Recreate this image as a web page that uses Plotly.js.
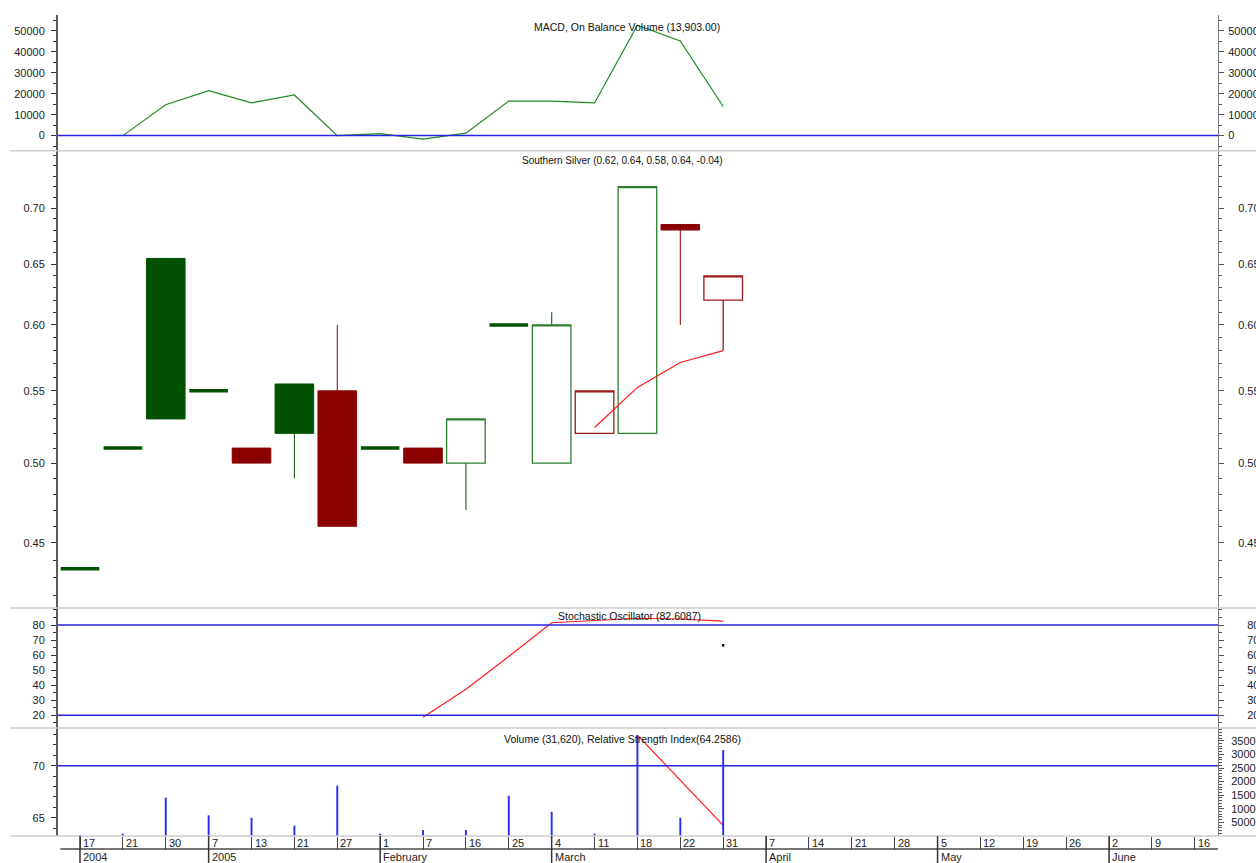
<!DOCTYPE html>
<html><head><meta charset="utf-8">
<script src="https://cdn.plot.ly/plotly-3.0.1.min.js"></script>
<style>html,body{margin:0;padding:0;background:#fff}#chart{width:1256px;height:863px}</style>
</head><body><div id="chart"></div>
<script>
// ---------- data ----------
const dateLabels = ['17','21','30','7','13','21','27','1','7','16','25','4','11','18','22','31','7','14','21','28','5','12','19','26','2','9','16'];
const periodLabels = ['2004','2005','February','March','April','May','June'];
const periodIdx = [0,3,7,11,16,20,24];

const open  = [0.435,0.51,0.655,0.55,0.51,0.555,0.55,0.51,0.51,0.50,0.60,0.50,0.52,0.52,0.685,0.62];
const high  = [0.435,0.51,0.655,0.55,0.51,0.555,0.60,0.51,0.51,0.53,0.60,0.61,0.55,0.72,0.685,0.64];
const low   = [0.435,0.51,0.53 ,0.55,0.50,0.49 ,0.46,0.51,0.50,0.47,0.60,0.50,0.52,0.52,0.60 ,0.58];
const close = [0.435,0.51,0.53 ,0.55,0.50,0.52 ,0.46,0.51,0.50,0.53,0.60,0.60,0.55,0.72,0.68 ,0.64];

const maIdx  = [12,13,14,15];
const maVals = [0.524,0.5525,0.571,0.58];

const volume = [370,850,14100,7600,6700,3800,18500,850,2200,2200,14800,8900,850,37100,6700,31620];
const obvIdx = [1,2,3,4,5,6,7,8,9,10,11,12,13,14,15];
const obv    = [0,14760,21500,15600,19400,0,960,-1700,1150,16500,16500,15600,52700,45200,13903];

const stochIdx = [8,9,10,11,12,13,14,15];
const stochK   = [18.7,37.3,59,81.5,83,84.5,84,82.6087];
const stochDIdx = [15];
const stochD    = [66.5];

const rsiIdx = [13,14,15];
const rsi    = [72.95,68.6,64.2586];

const macdLevel = 0;
const stochLevels = [20,80];
const rsiLevel = 70;

const obvTicks = [0,10000,20000,30000,40000,50000];
const priceTicks = [0.45,0.50,0.55,0.60,0.65,0.70];
const stochTicks = [20,30,40,50,60,70,80];
const rsiTicks = [65,70];
const volTicks = [5000,10000,15000,20000,25000,30000,35000];

// ---------- styles ----------
const FONT = 'Liberation Sans, Arial, sans-serif';
const axisFont = {family: FONT, size: 11, color: '#222'};
const GREEN_FILL = '#005200', RED_FILL = '#8b0000';
const GREEN_LINE = '#2f7f2f', RED_LINE = '#a01818';
const BLUE = '#2424e0';

function range(a, b, s){ const r=[]; for(let v=a; v<=b+1e-9; v+=s) r.push(+v.toFixed(4)); return r; }

// ---------- candles grouped by style ----------
const groups = {};
for (let i = 0; i < close.length; i++) {
  const up = i === 0 || close[i] >= close[i-1];
  const doji = open[i] === close[i];
  const filled = close[i] <= open[i];
  const key = (up ? 'g' : 'r') + (doji ? 'd' : (filled ? 'f' : 'h'));
  (groups[key] = groups[key] || []).push(i);
}
const styleFor = {
  gd: {fill: GREEN_FILL, line: GREEN_FILL, w: 3.5},
  gf: {fill: GREEN_FILL, line: GREEN_FILL, w: 1},
  gh: {fill: '#ffffff', line: GREEN_LINE, w: 1.3},
  rd: {fill: RED_FILL, line: RED_FILL, w: 3.5},
  rf: {fill: RED_FILL, line: RED_FILL, w: 1},
  rh: {fill: '#ffffff', line: RED_LINE, w: 1.3}
};
const traces = [];
Object.keys(groups).forEach(k => {
  const idx = groups[k], s = styleFor[k];
  const dir = {line: {color: s.line, width: s.w}, fillcolor: s.fill};
  traces.push({
    type: 'candlestick', xaxis: 'x', yaxis: 'y3',
    x: idx, open: idx.map(i => open[i]), high: idx.map(i => high[i]),
    low: idx.map(i => low[i]), close: idx.map(i => close[i]),
    increasing: dir, decreasing: dir, whiskerwidth: 0,
    hoverinfo: 'skip', showlegend: false
  });
});

traces.push({type:'scatter', mode:'lines', x: maIdx, y: maVals, xaxis:'x', yaxis:'y3',
  line:{color:'#ff1a1a', width:1.2}, hoverinfo:'skip', showlegend:false});

traces.push({type:'scatter', mode:'lines', x: obvIdx, y: obv, xaxis:'x', yaxis:'y',
  line:{color:'#1f8a1f', width:1.2}, hoverinfo:'skip', showlegend:false});

traces.push({type:'scatter', mode:'lines', x: stochIdx, y: stochK, xaxis:'x', yaxis:'y5',
  line:{color:'#ff1a1a', width:1.2}, hoverinfo:'skip', showlegend:false});
traces.push({type:'scatter', mode:'markers', x: stochDIdx, y: stochD, xaxis:'x', yaxis:'y5',
  marker:{color:'#000', size:2.5, symbol:'square'}, hoverinfo:'skip', showlegend:false});

traces.push({type:'bar', x: volume.map((_, i) => i), y: volume, xaxis:'x', yaxis:'y8',
  width: 0.045, marker:{color:'#2b2bff', line:{width:0}}, hoverinfo:'skip', showlegend:false});

traces.push({type:'scatter', mode:'lines', x: rsiIdx, y: rsi, xaxis:'x', yaxis:'y7',
  line:{color:'#ff1a1a', width:1.2}, hoverinfo:'skip', showlegend:false});

// invisible copies so that the right-hand mirror axes get drawn
[['y2', obvIdx, obv], ['y4', maIdx, maVals], ['y6', stochIdx, stochK]].forEach(h => {
  traces.push({type:'scatter', mode:'lines', x: h[1], y: h[2], xaxis:'x', yaxis: h[0],
    line:{color:'rgba(0,0,0,0)', width:0}, opacity:0, hoverinfo:'skip', showlegend:false});
});

// ---------- axes ----------
const XR = [-0.513, 26.54];
const D_OBV = [0.8347, 1], D_PRICE = [0.2777, 0.8347], D_STO = [0.1315, 0.2777], D_RSI = [0, 0.1315];

function leftAxis(domain, rng, ticks, minor, extra){
  return Object.assign({
    domain: domain, range: rng, anchor: 'x', side: 'left',
    tickmode: 'array', tickvals: ticks, tickfont: axisFont,
    showline: true, linecolor: '#5a5a5a', linewidth: 2,
    ticks: 'outside', ticklen: 5, tickcolor: '#333', tickwidth: 1,
    minor: {tickmode: 'array', tickvals: minor, ticks: 'outside', ticklen: 3, tickcolor: '#333'},
    showgrid: false, zeroline: false, fixedrange: true, ticklabelstandoff: 4
  }, extra || {});
}
function rightAxis(base, rng, ticks, minor, standoff, extra){
  return Object.assign({
    overlaying: base, side: 'right', anchor: 'x', range: rng,
    tickmode: 'array', tickvals: ticks, tickfont: axisFont,
    showline: true, linecolor: '#7a7a7a', linewidth: 1,
    ticks: 'outside', ticklen: 5, tickcolor: '#555', tickwidth: 1,
    minor: {tickmode: 'array', tickvals: minor, ticks: 'outside', ticklen: 3, tickcolor: '#555'},
    showgrid: false, zeroline: false, fixedrange: true, ticklabelstandoff: standoff
  }, extra || {});
}

const obvRange = [-7200, 57550];
const priceRange = [Math.log10(0.413), Math.log10(0.755)];
const stoRange = [11.5, 91.3];
const rsiRange = [63.24, 73.63];
const volRange = [0, 39710];

const obvMinor = range(-5000, 55000, 10000);
const priceMinor = range(0.42, 0.75, 0.01);
const stoMinor = range(15, 90, 5);
const rsiMinor = range(64, 73, 1);
const volMinor = range(1000, 39000, 1000);

// ---------- shapes ----------
const pY = y => (836 - y) / 821;   // pixel row -> paper y
const shapes = [];
shapes.push({type:'line', xref:'paper', x0:0, x1:1, yref:'y', y0:macdLevel, y1:macdLevel, line:{color:BLUE, width:1.5}});
stochLevels.forEach(v => shapes.push({type:'line', xref:'paper', x0:0, x1:1, yref:'y5', y0:v, y1:v, line:{color:BLUE, width:1.5}}));
shapes.push({type:'line', xref:'paper', x0:0, x1:1, yref:'y7', y0:rsiLevel, y1:rsiLevel, line:{color:BLUE, width:1.5}});
[150.7, 608, 728, 836].forEach(y => shapes.push({type:'line', xref:'paper', x0:-0.041, x1:1.04, yref:'paper', y0:pY(y), y1:pY(y), line:{color:'#cdcdcd', width:1.5}}));
shapes.push({type:'line', xref:'paper', x0:0.002, x1:1, yref:'paper', y0:pY(849), y1:pY(849), line:{color:'#4a4a4a', width:1.5}});
periodIdx.forEach(i => shapes.push({type:'line', xref:'x', x0:i, x1:i, yref:'paper', y0:0, y1:pY(863), line:{color:'#333', width:1.5}}));

// ---------- annotations ----------
const ann = [];
[['MACD, On Balance Volume (13,903.00)', 627, 26.7, 10.5],
 ['Southern Silver (0.62, 0.64, 0.58, 0.64, -0.04)', 622, 161, 10],
 ['Stochastic Oscillator (82.6087)', 629, 616, 10.5],
 ['Volume (31,620), Relative Strength Index(64.2586)', 622.5, 739.3, 10.5]].forEach(t => {
  ann.push({xref:'paper', yref:'paper', x:(t[1]-58)/1160, y:pY(t[2]), text:t[0], showarrow:false,
    xanchor:'center', yanchor:'middle', font:{family: FONT, size: t[3], color: '#111'}});
});
dateLabels.forEach((t, i) => ann.push({xref:'x', yref:'paper', x:i, y:pY(843), text:t, showarrow:false,
  xanchor:'left', yanchor:'middle', xshift:1, font:axisFont}));
periodLabels.forEach((t, k) => ann.push({xref:'x', yref:'paper', x:periodIdx[k], y:pY(857), text:t, showarrow:false,
  xanchor:'left', yanchor:'middle', xshift:1, font:axisFont}));

const layout = {
  width: 1256, height: 863,
  margin: {l: 58, r: 38, t: 15, b: 27},
  paper_bgcolor: '#fff', plot_bgcolor: '#fff',
  showlegend: false, boxgap: 0.1, boxgroupgap: 0,
  xaxis: {domain:[0,1], range: XR, anchor:'y7', tickmode:'array',
    tickvals: dateLabels.map((_, i) => i), showticklabels:false,
    ticks:'outside', ticklen:13, tickcolor:'#444', tickwidth:1,
    showgrid:false, zeroline:false, showline:false, rangeslider:{visible:false}, fixedrange:true},
  yaxis:  leftAxis(D_OBV, obvRange, obvTicks, obvMinor, {ticktext: obvTicks.map(String)}),
  yaxis2: rightAxis('y', obvRange, obvTicks, obvMinor, 2, {ticktext: obvTicks.map(String)}),
  yaxis3: leftAxis(D_PRICE, priceRange, priceTicks, priceMinor, {type:'log', ticktext: priceTicks.map(v => v.toFixed(2))}),
  yaxis4: rightAxis('y3', priceRange, priceTicks, priceMinor, 12, {type:'log', ticktext: priceTicks.map(v => v.toFixed(2))}),
  yaxis5: leftAxis(D_STO, stoRange, stochTicks, stoMinor),
  yaxis6: rightAxis('y5', stoRange, stochTicks, stoMinor, 21),
  yaxis7: leftAxis(D_RSI, rsiRange, rsiTicks, rsiMinor),
  yaxis8: rightAxis('y7', volRange, volTicks, volMinor, 5, {ticktext: volTicks.map(String)}),
  shapes: shapes,
  annotations: ann
};

Plotly.newPlot('chart', traces, layout, {displayModeBar:false, staticPlot:true});
</script>
</body></html>
